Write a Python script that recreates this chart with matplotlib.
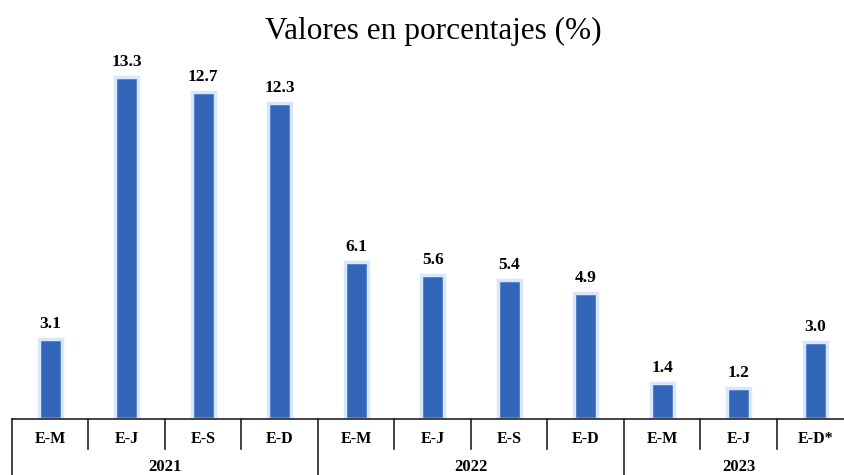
import matplotlib
matplotlib.use("Agg")
import matplotlib.pyplot as plt
from matplotlib.transforms import blended_transform_factory

categories = ["E-M", "E-J", "E-S", "E-D", "E-M", "E-J", "E-S", "E-D", "E-M", "E-J", "E-D*"]
values = [3.1, 13.3, 12.7, 12.3, 6.1, 5.6, 5.4, 4.9, 1.4, 1.2, 3.0]
years = ["2021", "2022", "2023"]
year_counts = [4, 4, 3]
title = "Valores en porcentajes (%)"

W, H = 845, 475
fig = plt.figure(figsize=(W / 100, H / 100), dpi=100)
ax = fig.add_axes([12 / W, 56 / H, 833 / W, 360 / H])
serif = ["Liberation Serif", "DejaVu Serif"]

x = list(range(len(values)))
ax.bar(x, values, width=0.3, color="#3366b8", edgecolor="#d6e8fa", linewidth=2.5, zorder=2)
for xi, v in zip(x, values):
    ax.annotate(f"{v:.1f}", (xi, v), xytext=(0, 5), textcoords="offset points",
                ha="center", va="bottom", fontsize=12.5, fontweight="bold", family=serif)

ax.set_xlim(-0.5, -0.5 + 833 / 76.5)
ax.set_ylim(0, 14)
ax.set_xticks([])
ax.set_yticks([])
for s in ["top", "right", "left"]:
    ax.spines[s].set_visible(False)
ax.spines["bottom"].set_color("#222222")
ax.spines["bottom"].set_linewidth(1.2)

tr = blended_transform_factory(ax.transData, fig.transFigure)
y_axis = 56 / H
y_cat_end = (H - 449) / H
y_cat_text = (H - 439) / H
y_year_text = (H - 467) / H

for i, c in enumerate(categories):
    ax.text(i, y_cat_text, c, transform=tr, ha="center", va="center",
            fontsize=11.5, fontweight="bold", family=serif)

bounds = [0]
for n in year_counts:
    bounds.append(bounds[-1] + n)
year_bounds = set(bounds[:-1])
for b in range(len(categories)):
    xb = b - 0.5
    yend = 0 if b in year_bounds else y_cat_end
    ax.plot([xb, xb], [y_axis, yend], transform=tr, color="#222222", lw=1.2, clip_on=False)

for j, yr in enumerate(years):
    center = (bounds[j] + bounds[j + 1] - 1) / 2
    ax.text(center, y_year_text, yr, transform=tr, ha="center", va="center",
            fontsize=12, fontweight="bold", family=serif)

fig.text(433 / W, (H - 31) / H, title, ha="center", va="center", fontsize=22.5, family=serif)

fig.savefig("out.png", dpi=100)
